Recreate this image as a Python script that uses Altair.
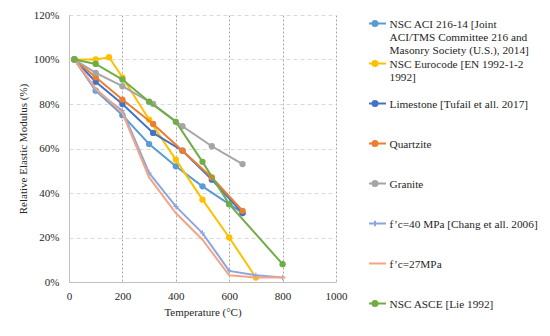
import altair as alt
import pandas as pd

# ---------------- data ----------------
# legend text lines are separated by '|'
series_names = [
    "NSC ACI 216-14 [Joint|ACI/TMS Committee 216 and|Masonry Society (U.S.), 2014]",
    "NSC Eurocode [EN 1992-1-2|1992]",
    "Limestone [Tufail et all. 2017]",
    "Quartzite",
    "Granite",
    "f\u2019c=40 MPa [Chang et all. 2006]",
    "f\u2019c=27MPa",
    "NSC ASCE [Lie 1992]",
]
colors = ["#5B9BD5", "#FFC000", "#4472C4", "#ED7D31", "#A5A5A5", "#8EA6DC", "#F3A584", "#70AD47"]
markers = ["circle", "circle", "circle", "circle", "circle", "cross", "none", "circle"]

aci_t = [20, 100, 200, 300, 400, 500, 600, 650]
aci_e = [100, 86, 75, 62, 52, 43, 35, 31]
euro_t = [20, 100, 150, 200, 300, 400, 500, 600, 700]
euro_e = [100, 100, 101, 92, 73, 55, 37, 20, 2]
lime_t = [20, 100, 200, 315, 425, 535, 650]
lime_e = [100, 90, 80, 67, 59, 46, 31]
quartz_t = [20, 100, 200, 315, 425, 535, 650]
quartz_e = [100, 92, 82, 71, 59, 47, 32]
granite_t = [20, 100, 200, 315, 425, 535, 650]
granite_e = [100, 94, 88, 80, 70, 61, 53]
fc40_t = [20, 100, 200, 300, 400, 500, 600, 700, 800]
fc40_e = [100, 86, 77, 49, 34, 22, 5, 3, 2]
fc27_t = [20, 100, 200, 300, 400, 500, 600, 700, 810]
fc27_e = [100, 87, 76, 47, 31, 19, 3, 2, 2]
asce_t = [20, 100, 200, 300, 400, 500, 600, 800]
asce_e = [100, 98, 91, 81, 72, 54, 35, 8]

x_ticks = [0, 200, 400, 600, 800, 1000]
y_ticks = [0, 20, 40, 60, 80, 100, 120]

all_t = [aci_t, euro_t, lime_t, quartz_t, granite_t, fc40_t, fc27_t, asce_t]
all_e = [aci_e, euro_e, lime_e, quartz_e, granite_e, fc40_e, fc27_e, asce_e]

rows = []
for i, (ts, es) in enumerate(zip(all_t, all_e)):
    for t, e in zip(ts, es):
        rows.append({"idx": i, "series": series_names[i], "temp": t, "mod": e})
df = pd.DataFrame(rows)

# ---------------- chart ----------------
FONT = "Liberation Serif"
TXT = "#262626"

# legend symbol paths (symbolSize 100 -> 1 unit = 5px); drawn at the first text line
dot_path = "M-2.2,1H2.2M-0.5,1A0.5,0.5,0,1,1,0.5,1A0.5,0.5,0,1,1,-0.5,1Z"
cross_path = "M-2.2,1H2.2M0,0.45V1.55"
line_path = "M-2.2,1H2.2"
leg_paths = [cross_path if m == "cross" else line_path if m == "none" else dot_path for m in markers]

base = alt.Chart(df)

axis_common = dict(labelFont=FONT, labelFontSize=11, labelColor=TXT,
                   titleFont=FONT, titleFontSize=11, titleFontWeight="normal", titleColor=TXT,
                   labelFlush=False, ticks=False, domainColor="#BFBFBF", domainWidth=1, gridWidth=1)

x = alt.X("temp:Q", title="Temperature (°C)",
          scale=alt.Scale(domain=[0, 1000], nice=False),
          axis=alt.Axis(values=x_ticks, format="d", gridDash=[2, 2], gridColor="#A6A6A6",
                        labelPadding=8, titlePadding=5, **axis_common))
y = alt.Y("mod:Q", title="Relative Elastic Modulus (%)",
          scale=alt.Scale(domain=[0, 120], nice=False),
          axis=alt.Axis(values=y_ticks, labelExpr="datum.value + '%'",
                        gridDash=[4, 3], gridColor="#D9D9D9",
                        labelPadding=10, titlePadding=5, **axis_common))

layers = []
for i, name in enumerate(series_names):
    sub = base.transform_filter(f"datum.idx == {i}")
    layers.append(sub.mark_line(strokeWidth=2, color=colors[i]).encode(x=x, y=y))
    if markers[i] == "circle":
        layers.append(sub.mark_point(filled=True, size=40, opacity=1, color=colors[i]).encode(x=x, y=y))
    elif markers[i] == "cross":
        layers.append(sub.mark_point(shape="M-1,0H1M0,-1V1", size=30, strokeWidth=1,
                                     opacity=1, color=colors[i]).encode(x=x, y=y))

leg = alt.Legend(
    title=None, orient="none", legendX=300, legendY=1.6, padding=0,
    symbolSize=100, symbolStrokeWidth=2, labelOffset=8.5,
    labelFont=FONT, labelFontSize=11.3, labelColor=TXT, labelBaseline="top",
    labelLimit=400, labelExpr="split(datum.label, '|')",
    gridAlign="all", rowPadding=0, clipHeight=3.8,
)
legend_layer = base.transform_filter("false").mark_point(
    filled=True, size=100, strokeWidth=2, opacity=1
).encode(
    x=x, y=y,
    fill=alt.Fill("series:N", scale=alt.Scale(domain=series_names, range=colors), legend=leg),
    stroke=alt.Stroke("series:N", scale=alt.Scale(domain=series_names, range=colors), legend=leg),
    shape=alt.Shape("series:N", scale=alt.Scale(domain=series_names, range=leg_paths), legend=leg),
)

chart = alt.layer(*layers, legend_layer).properties(
    width=267, height=267,
    autosize=alt.AutoSizeParams(type="none"),
    padding={"left": 61, "top": 7, "right": 206, "bottom": 46},
).configure(
    style={"guide-label": {"font": FONT, "fontSize": 11, "fill": TXT, "lineHeight": 13.2},
           "guide-title": {"font": FONT, "fontSize": 11, "fill": TXT, "fontWeight": "normal"}}
).configure_view(
    stroke=None
).configure_axis(
    labelFont=FONT, labelFontSize=11, labelColor=TXT,
    titleFont=FONT, titleFontSize=11, titleFontWeight="normal", titleColor=TXT,
)

chart.save("out.html", embed_options={"renderer": "svg", "actions": False})
